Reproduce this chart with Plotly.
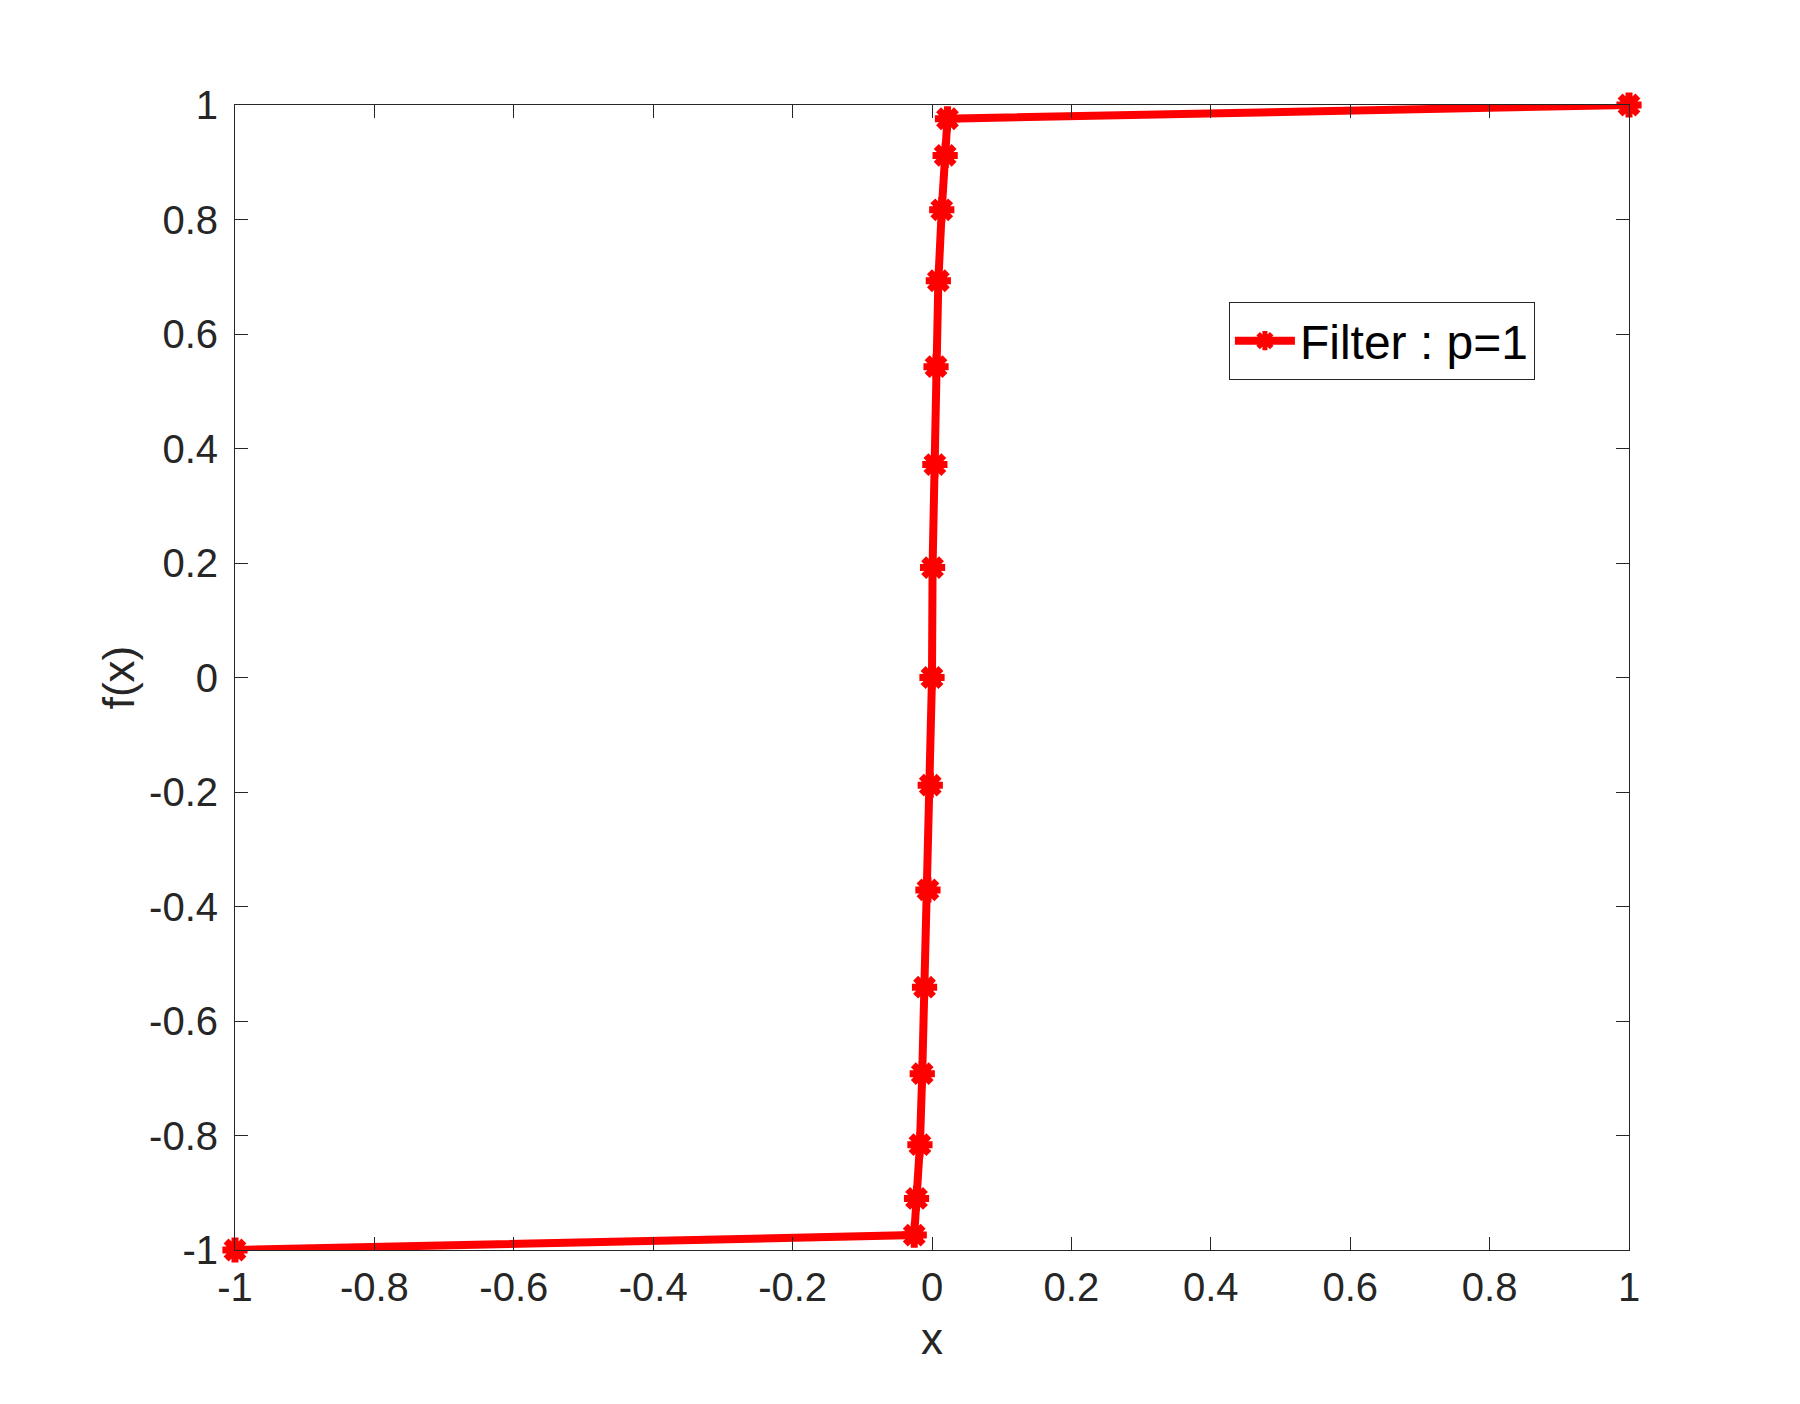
import plotly.graph_objects as go

# Data
x_vals = [-1.0, -0.0255, -0.0222, -0.0173, -0.0140, -0.0107, -0.0058, -0.0025, 0.0,
          0.0008, 0.0041, 0.0058, 0.0091, 0.0140, 0.0189, 0.0222, 1.0]
y_vals = [-1.0, -0.974, -0.910, -0.816, -0.692, -0.541, -0.371, -0.188, 0.0,
          0.192, 0.372, 0.543, 0.693, 0.817, 0.912, 0.976, 1.0]
series_name = "Filter : p=1"

tick_vals = [-1, -0.8, -0.6, -0.4, -0.2, 0, 0.2, 0.4, 0.6, 0.8, 1]
tick_text = ["-1", "-0.8", "-0.6", "-0.4", "-0.2", "0", "0.2", "0.4", "0.6", "0.8", "1"]

FONT = "Liberation Sans, Arial, Helvetica, sans-serif"
AX = "#262626"

fig = go.Figure()
fig.add_trace(go.Scatter(
    x=x_vals, y=y_vals, mode="lines+markers", name=series_name,
    line=dict(color="#ff0000", width=8),
    marker=dict(symbol="asterisk-open", size=21, color="#ff0000",
                line=dict(color="#ff0000", width=7)),
    cliponaxis=False,
))

axis_common = dict(
    range=[-1, 1], tickvals=tick_vals, ticktext=tick_text,
    showgrid=False, zeroline=False, showline=True, linecolor=AX, linewidth=1,
    mirror="ticks", ticks="inside", ticklen=13, tickcolor=AX, tickwidth=1,
    tickfont=dict(family=FONT, size=40, color=AX),
)

fig.update_xaxes(**axis_common, ticklabelstandoff=2,
                 title=dict(text="x", font=dict(family=FONT, size=44, color=AX), standoff=15))
fig.update_yaxes(**axis_common, ticklabelstandoff=8,
                 title=dict(text="f(x)", font=dict(family=FONT, size=44, color=AX), standoff=0))

fig.update_layout(
    width=1800, height=1404,
    margin=dict(l=227, r=179, t=97, b=162),
    plot_bgcolor="white", paper_bgcolor="white",
    showlegend=True,
    legend=dict(x=0.713, y=0.828, xanchor="left", yanchor="top",
                bgcolor="white", bordercolor=AX, borderwidth=1, itemwidth=60,
                font=dict(family=FONT, size=48, color="black")),
)

fig.write_html("out.html")
